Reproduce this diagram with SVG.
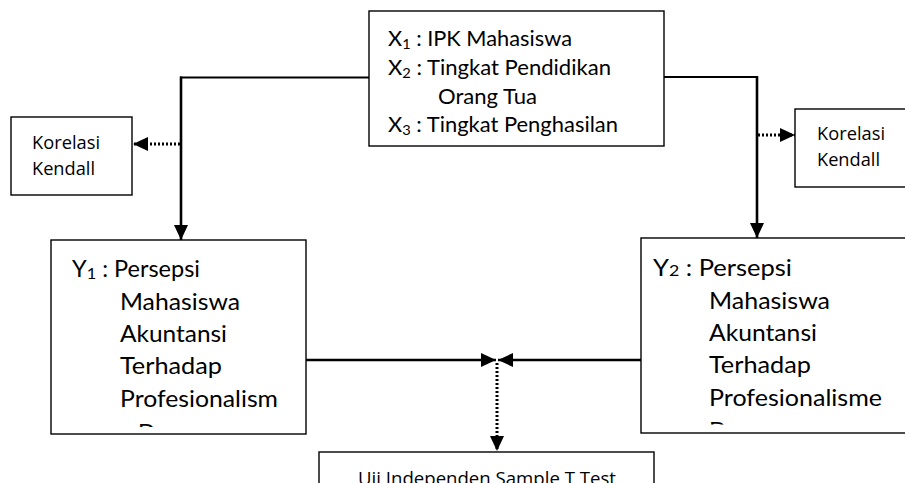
<svg xmlns="http://www.w3.org/2000/svg" width="905" height="483" viewBox="0 0 905 483">
<style>
.box{fill:#fff;stroke:#000;stroke-width:1.4}
.cal{font-family:Lato,"Open Sans","Liberation Sans",sans-serif;fill:#000}
.os{font-family:"Open Sans","Noto Sans","Liberation Sans",sans-serif;fill:#000}
.ln{stroke:#000;fill:none}
.dot{stroke:#000;fill:none;stroke-width:3;stroke-dasharray:2 2}
</style>
<defs>
<marker id="ah" markerUnits="userSpaceOnUse" markerWidth="15" markerHeight="14" viewBox="0 0 15 14" refX="15" refY="7" orient="auto">
<path d="M0,0 L15,7 L0,14 z" fill="#000"/>
</marker>
<clipPath id="c1"><rect x="51" y="240" width="255" height="187"/></clipPath>
<clipPath id="c2"><rect x="641" y="238" width="270" height="186.5"/></clipPath>
</defs>
<rect width="905" height="483" fill="#fff"/>
<g id="connectors">
<line class="ln" stroke-width="1.8" x1="369" y1="77.5" x2="180" y2="77.5"/>
<line class="ln" stroke-width="2.6" x1="181" y1="76.5" x2="181" y2="240" marker-end="url(#ah)"/>
<line class="ln" stroke-width="1.8" x1="664" y1="77" x2="758" y2="77"/>
<line class="ln" stroke-width="2.6" x1="757" y1="76" x2="757" y2="238" marker-end="url(#ah)"/>
<line class="dot" x1="180" y1="144" x2="133" y2="144" marker-end="url(#ah)"/>
<line class="dot" x1="758" y1="135" x2="795" y2="135" marker-end="url(#ah)"/>
<line class="ln" stroke-width="2.4" x1="306" y1="360" x2="496" y2="360" marker-end="url(#ah)"/>
<line class="ln" stroke-width="2.4" x1="641" y1="360" x2="498" y2="360" marker-end="url(#ah)"/>
<line class="dot" x1="497" y1="363" x2="497" y2="451" marker-end="url(#ah)"/>
</g>
<g id="x-box">
<rect class="box" x="369" y="11" width="295" height="135"/>
<text class="cal" font-size="21" x="388" y="46" textLength="184" lengthAdjust="spacingAndGlyphs">X<tspan font-size="14" dy="3">1</tspan><tspan dy="-3"> : IPK Mahasiswa</tspan></text>
<text class="cal" font-size="21" x="388" y="75" textLength="223" lengthAdjust="spacingAndGlyphs">X<tspan font-size="14" dy="3">2</tspan><tspan dy="-3"> : Tingkat Pendidikan</tspan></text>
<text class="cal" font-size="21" x="438" y="103.5" textLength="99" lengthAdjust="spacingAndGlyphs">Orang Tua</text>
<text class="cal" font-size="21" x="388" y="132" textLength="230" lengthAdjust="spacingAndGlyphs">X<tspan font-size="14" dy="3">3</tspan><tspan dy="-3"> : Tingkat Penghasilan</tspan></text>
</g>
<g id="korelasi-left">
<rect class="box" x="11" y="117" width="121" height="78"/>
<text class="os" font-size="18" x="32" y="149" textLength="68" lengthAdjust="spacingAndGlyphs">Korelasi</text>
<text class="os" font-size="18" x="32" y="175" textLength="63" lengthAdjust="spacingAndGlyphs">Kendall</text>
</g>
<g id="korelasi-right">
<rect class="box" x="795" y="109" width="115" height="78"/>
<text class="os" font-size="18" x="817" y="140" textLength="68" lengthAdjust="spacingAndGlyphs">Korelasi</text>
<text class="os" font-size="18" x="817" y="166" textLength="63" lengthAdjust="spacingAndGlyphs">Kendall</text>
</g>
<g id="y1-box">
<rect class="box" x="51" y="240" width="255" height="194"/>
<g clip-path="url(#c1)">
<text class="cal" font-size="23" x="72" y="277" textLength="128" lengthAdjust="spacingAndGlyphs">Y<tspan font-size="16" dy="2">1</tspan><tspan dy="-2"> : Persepsi</tspan></text>
<text class="cal" font-size="23" x="120" y="309.5" textLength="120" lengthAdjust="spacingAndGlyphs">Mahasiswa</text>
<text class="cal" font-size="23" x="120" y="342" textLength="107" lengthAdjust="spacingAndGlyphs">Akuntansi</text>
<text class="cal" font-size="23" x="120" y="374" textLength="102" lengthAdjust="spacingAndGlyphs">Terhadap</text>
<text class="cal" font-size="23" x="120" y="406.5" textLength="158" lengthAdjust="spacingAndGlyphs">Profesionalism</text>
<text class="cal" font-size="23" x="120" y="441">e Dosen</text>
</g>
</g>
<g id="y2-box">
<rect class="box" x="641" y="238" width="270" height="195"/>
<g clip-path="url(#c2)">
<text class="cal" font-size="23" x="653" y="276" textLength="139" lengthAdjust="spacingAndGlyphs">Y<tspan font-size="16">2</tspan> : Persepsi</text>
<text class="cal" font-size="23" x="709" y="308.5" textLength="121" lengthAdjust="spacingAndGlyphs">Mahasiswa</text>
<text class="cal" font-size="23" x="709" y="341" textLength="108" lengthAdjust="spacingAndGlyphs">Akuntansi</text>
<text class="cal" font-size="23" x="709" y="373" textLength="102" lengthAdjust="spacingAndGlyphs">Terhadap</text>
<text class="cal" font-size="23" x="709" y="405.5" textLength="173" lengthAdjust="spacingAndGlyphs">Profesionalisme</text>
<text class="cal" font-size="23" x="709" y="439">Dosen</text>
</g>
</g>
<g id="uji-box">
<rect class="box" x="319" y="452" width="335" height="40"/>
<text class="os" font-size="18.5" x="358" y="485" textLength="258" lengthAdjust="spacingAndGlyphs">Uji Independen Sample T Test</text>
</g>
</svg>
